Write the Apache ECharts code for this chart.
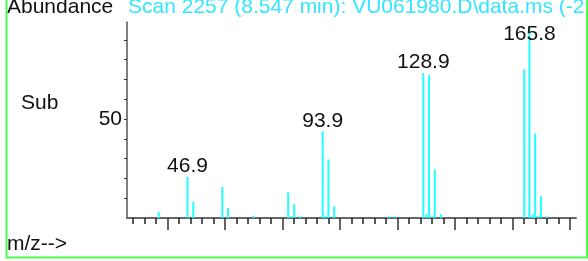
<!DOCTYPE html>
<html>
<head>
<meta charset="utf-8">
<script src="https://cdn.jsdelivr.net/npm/echarts@6/dist/echarts.min.js"></script>
<style>
  html, body { margin: 0; padding: 0; background: #fff; }
  #chart { width: 588px; height: 261px; }
</style>
</head>
<body>
<div id="chart"></div>
<script>
// peak list (m/z, relative abundance)
const mzValues = [36.9, 46.9, 48.9, 59.0, 61.0, 69.9, 81.9, 83.0, 84.0, 86.0,
  93.9, 94.9, 95.9, 97.9, 117.0, 118.9, 128.9, 130.0, 130.9, 132.0, 132.9, 135.0,
  164.0, 165.8, 166.9, 167.8, 168.8, 169.8, 171.9];
const abundances = [3.0, 20.7, 8.1, 15.7, 5.0, 1.0, 13.0, 0.9, 6.9, 0.9,
  43.8, 0.9, 29.6, 5.9, 0.9, 0.9, 73.2, 1.9, 72.1, 0.9, 24.6, 1.9,
  75.1, 95.8, 1.9, 42.6, 1.0, 11.0, 0.9];
const labeledPeaks = [46.9, 93.9, 128.9, 165.8];

const minorTicks = [28, 32, 36, 44, 48, 52, 56, 64, 68, 72, 76, 84, 88, 92, 96,
  104, 108, 112, 116, 124, 128, 132, 136, 144, 148, 152, 156, 164, 168, 172, 176];
const majorTicks = [40, 60, 80, 100, 120, 140, 160, 180];
const yTicks = [10, 20, 30, 40, 50, 60, 70, 80, 90];
const yLabels = [50];

const titleText = 'Scan 2257 (8.547 min): VU061980.D\\data.ms (-2';

const chart = echarts.init(document.getElementById('chart'));
const font = 'Liberation Sans, Arial, sans-serif';
const maxAb = Math.max(...abundances);

const peakData = mzValues.map((mz, i) => {
  const item = { value: [mz, abundances[i]] };
  if (labeledPeaks.indexOf(mz) >= 0) {
    item.label = { show: true };
    // the top peak label sits lower, over the line
    if (abundances[i] === maxAb) item.label.offset = [0, 16];
  }
  return item;
});

chart.setOption({
  animation: false,
  grid: { left: 127, right: 12, top: 22, bottom: 43 },
  xAxis: [{
    type: 'value',
    min: 25.85,
    max: 182,
    axisLine: { show: true, lineStyle: { color: '#666', width: 2 } },
    axisTick: { show: true, customValues: minorTicks, length: 6, lineStyle: { color: '#222', width: 1.5 } },
    axisLabel: { show: false },
    splitLine: { show: false }
  }, {
    type: 'value',
    position: 'bottom',
    min: 25.85,
    max: 182,
    axisLine: { show: false },
    axisTick: { show: true, customValues: majorTicks, length: 12, lineStyle: { color: '#333', width: 1.5 } },
    axisLabel: { show: false },
    splitLine: { show: false }
  }],
  yAxis: {
    type: 'value',
    min: 0,
    max: 99,
    axisLine: { show: true, lineStyle: { color: '#555', width: 1.5 } },
    axisTick: { show: true, customValues: yTicks, length: 3, lineStyle: { color: '#333' } },
    axisLabel: { customValues: yLabels, color: '#111', fontFamily: font, fontSize: 21, margin: 5 },
    splitLine: { show: false }
  },
  series: [{
    type: 'bar',
    xAxisIndex: 0,
    barWidth: 2,
    itemStyle: { color: '#22ffff' },
    label: {
      show: false,
      position: 'top',
      distance: 0,
      color: '#111',
      fontFamily: font,
      fontSize: 21,
      formatter: p => p.value[0].toFixed(1)
    },
    data: peakData
  }],
  graphic: [
    { type: 'text', style: { text: 'Abundance', x: 7, y: 7, font: '21px ' + font, fill: '#111', verticalAlign: 'middle' } },
    { type: 'text', style: { text: titleText, x: 128, y: 7, font: '21px ' + font, fill: '#33e6ff', verticalAlign: 'middle' } },
    { type: 'text', style: { text: 'Sub', x: 21, y: 103.5, font: '21px ' + font, fill: '#111', verticalAlign: 'middle' } },
    { type: 'text', style: { text: 'm/z-->', x: 7, y: 244, font: '21px ' + font, fill: '#111', verticalAlign: 'middle' } },
    { type: 'rect', shape: { x: 6.5, y: -10, width: 580.5, height: 267.5 }, style: { fill: 'none', stroke: '#4dff4d', lineWidth: 2 }, z: 100 }
  ]
});
</script>
</body>
</html>
